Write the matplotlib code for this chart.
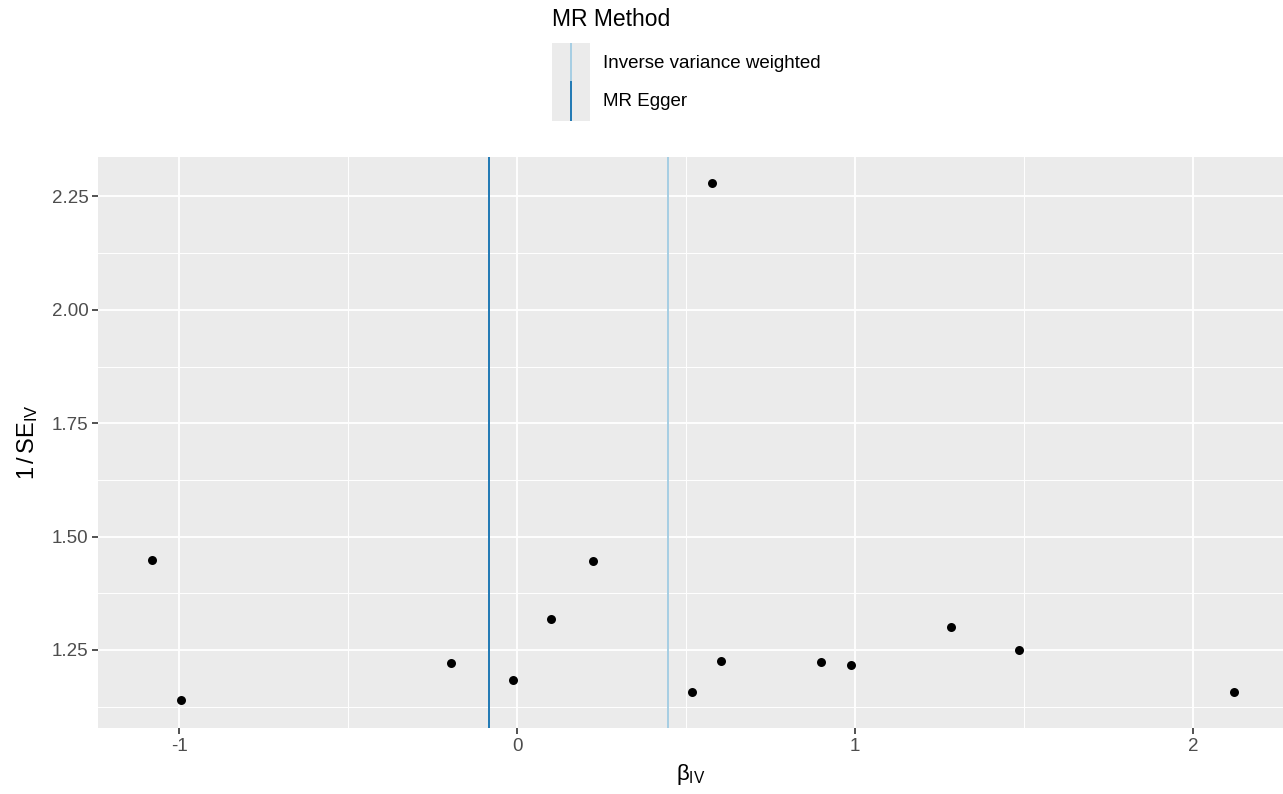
import matplotlib
matplotlib.use('Agg')
import matplotlib.pyplot as plt
import numpy as np

# per-SNP causal estimates and precision
beta_iv = [-1.08, -0.995, -0.195, -0.012, 0.101, 0.225, 0.518, 0.577,
           0.604, 0.899, 0.988, 1.284, 1.485, 2.121]
inv_se = [1.449, 1.140, 1.222, 1.184, 1.319, 1.447, 1.158, 2.279,
          1.226, 1.224, 1.217, 1.301, 1.251, 1.158]

# MR estimates shown as vertical lines
methods = ['Inverse variance weighted', 'MR Egger']
method_b = [0.447, -0.083]
method_colors = ['#a6cee3', '#1f78b4']

xticks = [-1, 0, 1, 2]
yticks = [1.25, 1.50, 1.75, 2.00, 2.25]

plt.rcParams['font.family'] = ['Liberation Sans', 'DejaVu Sans']
plt.rcParams['mathtext.fontset'] = 'custom'
plt.rcParams['mathtext.rm'] = 'Liberation Sans'
plt.rcParams['mathtext.it'] = 'Liberation Sans'


def main():
    W, H = 1283, 794
    fig = plt.figure(figsize=(W / 100, H / 100), dpi=100)

    left, right, top, bottom = 98, 1283, 157, 728
    ax = fig.add_axes([left / W, 1 - bottom / H, (right - left) / W, (bottom - top) / H])
    ax.set_facecolor('#ebebeb')
    for s in ax.spines.values():
        s.set_visible(False)

    ax.set_xlim(-1.24, 2.266)
    ax.set_ylim(1.078, 2.337)

    ax.set_xticks(xticks)
    ax.set_xticklabels([str(t) for t in xticks])
    ax.set_yticks(yticks)
    ax.set_yticklabels([f'{t:.2f}' for t in yticks])
    ax.set_xticks([-0.5, 0.5, 1.5], minor=True)
    ax.set_yticks([1.125, 1.375, 1.625, 1.875, 2.125], minor=True)

    ax.grid(which='major', color='white', lw=1.3)
    ax.grid(which='minor', color='white', lw=0.7)
    ax.set_axisbelow(True)
    ax.tick_params(which='major', length=4, width=1.2, color='#333333',
                   labelsize=13.5, labelcolor='#4d4d4d', pad=3)
    ax.tick_params(which='minor', length=0)

    for b, c in zip(method_b, method_colors):
        ax.axvline(b, color=c, lw=1.4, zorder=2)

    ax.scatter(beta_iv, inv_se, s=42, color='black', zorder=3, linewidths=0)

    ax.set_xlabel(r'$\beta_{\mathrm{IV}}$', fontsize=16, labelpad=5)
    ax.set_ylabel(r'$1\,/\,\mathrm{SE}_{\mathrm{IV}}$', fontsize=17, labelpad=8)

    # legend drawn above the panel
    fig.text(552 / W, 1 - 20 / H, 'MR Method', fontsize=16.5, va='center', ha='left')
    kx0, kx1, ky0, ky1 = 552, 590, 43, 121
    lg = fig.add_axes([kx0 / W, 1 - ky1 / H, (kx1 - kx0) / W, (ky1 - ky0) / H])
    lg.set_facecolor('#ebebeb')
    lg.set_xlim(0, 1)
    lg.set_ylim(0, 2)
    lg.set_xticks([])
    lg.set_yticks([])
    for s in lg.spines.values():
        s.set_visible(False)
    for i, (m, c) in enumerate(zip(methods, method_colors)):
        y0 = 1 - i
        lg.plot([0.5, 0.5], [y0, y0 + 1], color=c, lw=1.4)
        fig.text(603 / W, 1 - (63 + 39 * i) / H, m, fontsize=13.5, va='center', ha='left')

    fig.savefig('out.png', dpi=100)


main()
